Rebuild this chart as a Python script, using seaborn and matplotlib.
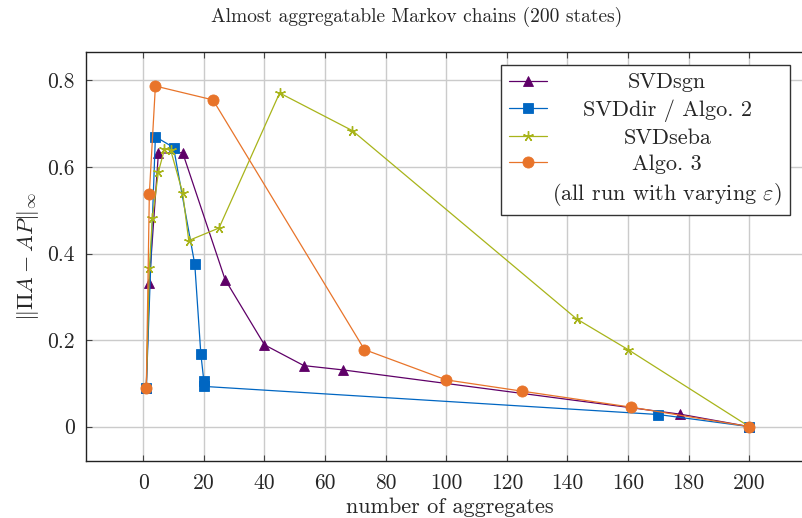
import matplotlib
matplotlib.use("Agg")
import matplotlib.pyplot as plt
import seaborn as sns
import numpy as np
from matplotlib.lines import Line2D

# ---- data ----
sgn_x = [1, 2, 5, 13, 27, 40, 53, 66, 177, 200]
sgn_y = [0.09, 0.332, 0.632, 0.633, 0.340, 0.189, 0.141, 0.131, 0.029, 0.0]

dir_x = [1, 4, 10, 17, 19, 20, 20, 170, 200]
dir_y = [0.09, 0.670, 0.645, 0.375, 0.168, 0.105, 0.093, 0.028, 0.0]

seba_x = [1, 2, 3, 5, 7, 9, 13, 15, 25, 45, 69, 143, 160, 200]
seba_y = [0.09, 0.367, 0.482, 0.589, 0.641, 0.640, 0.540, 0.430, 0.459,
          0.771, 0.684, 0.249, 0.178, 0.0]

alg3_x = [1, 2, 4, 23, 73, 100, 125, 161, 200]
alg3_y = [0.09, 0.537, 0.787, 0.755, 0.178, 0.108, 0.082, 0.045, 0.0]

labels = ["SVDsgn", "SVDdir / Algo. 2", "SVDseba", "Algo. 3"]
note = r"(all run with varying $\varepsilon$)"
title = "Almost aggregatable Markov chains (200 states)"
xlabel = "number of aggregates"
ylabel = r"$\|\Pi A - AP\|_\infty$"
xticks = [0, 20, 40, 60, 80, 100, 120, 140, 160, 180, 200]
yticks = [0, 0.2, 0.4, 0.6, 0.8]
ytick_labels = ["0", "0.2", "0.4", "0.6", "0.8"]

# ---- style ----
sns.set_theme(style="white")
plt.rcParams["font.family"] = ["cmr10", "DejaVu Serif"]
plt.rcParams["mathtext.fontset"] = "cm"
plt.rcParams["axes.unicode_minus"] = False
plt.rcParams["axes.formatter.use_mathtext"] = True
FS = 16
FS_TICK = 15.5
FS_TITLE = 14

colors = ["#5f0068", "#0066c2", "#a8b41a", "#e8742a"]
markers = ["^", "s", (5, 2, 0), "o"]
msizes = [7.5, 7.5, 7.5, 8]

W, H = 802, 518
fig = plt.figure(figsize=(W / 100, H / 100), dpi=100)
ax_left, ax_right, ax_top, ax_bot = 86, 809.6, 52, 460.7
ax = fig.add_axes([ax_left / W, 1 - ax_bot / H, (ax_right - ax_left) / W, (ax_bot - ax_top) / H])

series = [(sgn_x, sgn_y), (dir_x, dir_y), (seba_x, seba_y), (alg3_x, alg3_y)]
for (xs, ys), c, m, ms, lab in zip(series, colors, markers, msizes, labels):
    sns.lineplot(x=xs, y=ys, estimator=None, sort=False, ax=ax, color=c,
                 marker=m, markersize=ms, linewidth=0.9, label=lab,
                 markeredgecolor=c, markeredgewidth=1.0 if m == (5, 2, 0) else 0.6)

ax.set_xlim(-18.9, 219.9)
ax.set_ylim(-0.0787, 0.8657)
ax.set_xticks(xticks)
ax.set_xticklabels([str(v) for v in xticks])
ax.set_yticks(yticks)
ax.set_yticklabels(ytick_labels)
ax.grid(True, color="#cbcbcb", linewidth=1.0)
ax.set_axisbelow(True)
for s in ax.spines.values():
    s.set_color("#222222")
    s.set_linewidth(1.0)
ax.tick_params(axis="both", direction="in", length=4, width=0.8, color="#444444",
               labelsize=FS_TICK, pad=8, top=True, right=True, left=True, bottom=True)
ax.tick_params(axis="x", pad=9)
ax.set_xlabel("")
ax.set_ylabel("")

fig.text(417 / W, 1 - 17 / H, title, ha="center", va="center", fontsize=FS_TITLE)
fig.text(450 / W, 1 - 507 / H, xlabel, ha="center", va="center", fontsize=FS)
fig.text(28 / W, 1 - 256 / H, ylabel, ha="center", va="center", rotation=90, fontsize=FS)

# legend
handles, labs = ax.get_legend_handles_labels()
handles = list(handles) + [Line2D([], [], linestyle="none", marker=None)]
labs = list(labs) + [note]
leg = ax.legend(handles, labs, loc="upper right",
                bbox_to_anchor=((790 - ax_left) / (ax_right - ax_left), (ax_bot - 65) / (ax_bot - ax_top)),
                borderaxespad=0, fontsize=FS, frameon=True, fancybox=False,
                framealpha=1, edgecolor="#333333", handlelength=1.7,
                handletextpad=0.25, labelspacing=0.3, borderpad=0.35)
leg.get_frame().set_linewidth(1.0)

# center the legend labels within their column
fig.canvas.draw()
renderer = fig.canvas.get_renderer()
texts = leg.get_texts()
anchors = []
widths = []
for t in texts:
    a = t.get_transform().transform(t.get_position())
    anchors.append(a)
    widths.append(t.get_window_extent(renderer).width)
col_left = min(a[0] for a in anchors)
col_right = max(a[0] + w for a, w in zip(anchors, widths))
cx = (col_left + col_right) / 2
inv = fig.transFigure.inverted()
for t, a in zip(texts, anchors):
    s = t.get_text()
    t.set_visible(False)
    fx, fy = inv.transform((cx, a[1]))
    fig.text(fx, fy, s, ha="center", va="baseline", fontsize=FS, zorder=10)

fig.savefig("out.png", dpi=100)
